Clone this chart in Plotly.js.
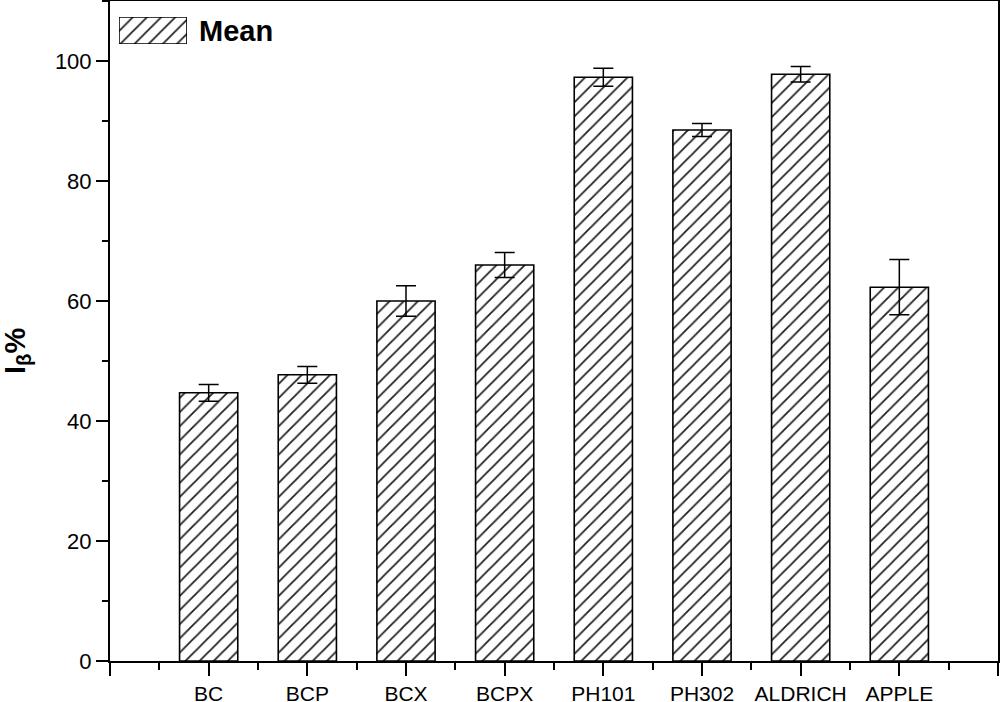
<!DOCTYPE html>
<html>
<head>
<meta charset="utf-8">
<script src="https://cdn.plot.ly/plotly-3.0.1.min.js"></script>
<style>html,body{margin:0;padding:0;background:#fff;}#chart{width:1000px;height:702px;}</style>
</head>
<body>
<div id="chart"></div>
<script>
const categories = ["BC", "BCP", "BCX", "BCPX", "PH101", "PH302", "ALDRICH", "APPLE"];
const means = [44.7, 47.7, 60.0, 66.0, 97.3, 88.5, 97.8, 62.3];
const errors = [1.4, 1.4, 2.55, 2.1, 1.5, 1.1, 1.3, 4.6];
const yTicks = [0, 20, 40, 60, 80, 100];
const seriesName = "Mean";

const positions = categories.map((_, i) => i);
const majorX = [-1].concat(positions, [categories.length]);
const majorText = [""].concat(categories, [""]);
const minorX = majorX.slice(0, -1).map(v => v + 0.5);

const pattern = {shape: "/", size: 10, solidity: 0.18, fgcolor: "#222", bgcolor: "#fff", fillmode: "replace"};
const font = {family: "Liberation Sans, Arial, sans-serif", color: "#000"};

const traces = [
  {
    type: "bar", x: positions, y: means, name: seriesName, width: 0.59,
    marker: {color: "#fff", pattern: pattern, line: {color: "#000", width: 1.6}},
    error_y: {type: "data", array: errors, visible: true, color: "#000", thickness: 1.5, width: 10},
    showlegend: false, hoverinfo: "x+y"
  },
  {
    type: "bar", x: [0], y: [1], name: seriesName, width: 1, xaxis: "x2", yaxis: "y2",
    marker: {color: "#fff", pattern: pattern, line: {color: "#000", width: 1.6}},
    showlegend: false, hoverinfo: "skip"
  }
];

const layout = {
  width: 1000, height: 702,
  margin: {l: 110, r: 2, t: 1, b: 41},
  paper_bgcolor: "#fff", plot_bgcolor: "#fff",
  font: font,
  bargap: 0.4,
  xaxis: {
    range: [-1, categories.length], tickmode: "array", tickvals: majorX, ticktext: majorText,
    ticks: "outside", ticklen: 13, tickwidth: 2, tickcolor: "#000",
    minor: {tickmode: "array", tickvals: minorX, ticks: "outside", ticklen: 7, tickwidth: 2, tickcolor: "#000"},
    showline: true, linecolor: "#000", linewidth: 2, mirror: true,
    showgrid: false, zeroline: false,
    tickfont: {family: font.family, size: 21, color: "#000"}
  },
  yaxis: {
    range: [0, 110], tickmode: "array", tickvals: yTicks,
    ticks: "outside", ticklen: 12, tickwidth: 2, tickcolor: "#000",
    minor: {dtick: 10, ticks: "outside", ticklen: 6, tickwidth: 2, tickcolor: "#000"},
    showline: true, linecolor: "#000", linewidth: 2, mirror: true,
    showgrid: false, zeroline: false,
    tickfont: {family: font.family, size: 22, color: "#000"}
  },
  xaxis2: {domain: [0.0101, 0.0867], anchor: "y2", range: [-0.5, 0.5], visible: false, fixedrange: true},
  yaxis2: {domain: [0.9348, 0.9758], anchor: "x2", range: [0, 1], visible: false, fixedrange: true},
  annotations: [
    {xref: "paper", yref: "paper", x: 0.098, y: 0.9545, xanchor: "left", yanchor: "middle",
     text: "<b>" + seriesName + "</b>", showarrow: false,
     font: {family: font.family, size: 29, color: "#000"}},
    {xref: "paper", yref: "paper", x: -0.1045, y: 0.47, xanchor: "center", yanchor: "middle",
     text: "<b>I<sub>β</sub>%</b>", textangle: -90, showarrow: false,
     font: {family: font.family, size: 29, color: "#000"}}
  ]
};

Plotly.newPlot("chart", traces, layout, {displayModeBar: false, staticPlot: true});
</script>
</body>
</html>
